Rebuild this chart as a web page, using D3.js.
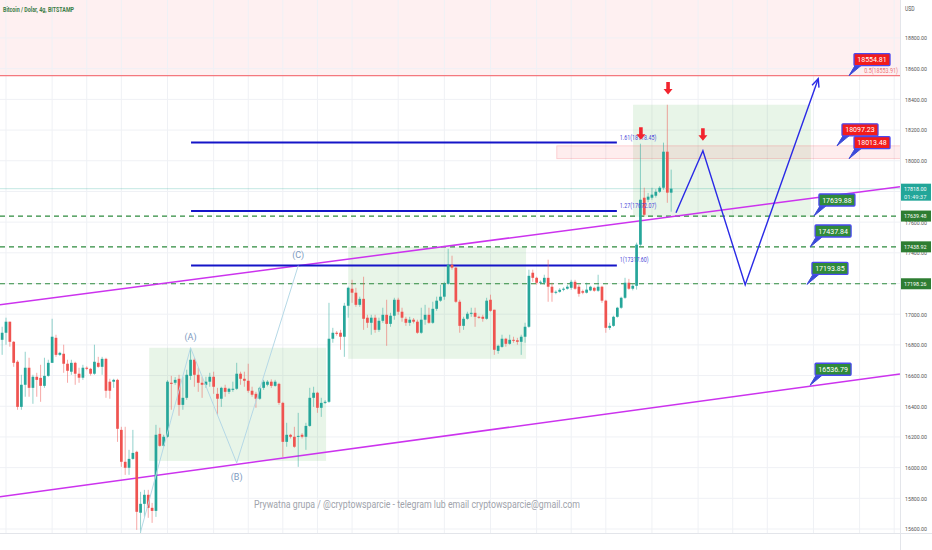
<!DOCTYPE html>
<html>
<head>
<meta charset="utf-8">
<script src="https://cdnjs.cloudflare.com/ajax/libs/d3/7.8.5/d3.min.js"></script>
<style>
  html, body { margin: 0; padding: 0; background: #fff; }
  svg { display: block; font-family: "Roboto", "Liberation Sans", sans-serif; }
</style>
</head>
<body>
<svg id="chart" width="932" height="550"></svg>
<script>
/* ===== BTC/USD 4h — Bitstamp, with channel, fib levels and projection ===== */

const W = 932, H = 550;
const PLOT_R = 900;      // price scale starts here
const AXIS_Y = 533;      // time scale starts here
const FIRST_BAR = Date.UTC(2022, 10, 15, 20);
const BAR_MS = 4 * 3600 * 1000;

/* ---------- candles (4h) ---------- */
const opens = [
  16833,16879,16951,16820,16690,16396,16540,16651,16520,16592,16585,16533,16598,16683,16846,16735,16742,16677,16625,16683,
  16612,16586,16651,16644,16612,16683,16657,16709,16560,16560,16572,16246,16038,15999,16057,16103,15706,15764,15823,15738,
  15718,16220,16142,16201,16553,16553,16579,16409,16455,16598,16703,16605,16553,16540,16560,16592,16481,16449,16520,16494,
  16507,16514,16612,16579,16566,16501,16481,16449,16520,16540,16560,16533,16546,16422,16168,16214,16201,16201,16214,16201,
  16272,16455,16488,16390,16422,16429,16840,16879,16879,16853,17055,17166,17140,17061,17100,16977,16944,16977,16898,16957,
  16996,16937,16990,17094,17016,16970,16944,16964,16951,16879,16964,16996,16944,17035,17088,17114,17198,17322,17303,17081,
  16924,16970,17003,17009,16983,16983,16970,17094,17029,16761,16787,16840,16807,16833,16830,16820,16853,16918,17270,17237,
  17205,17205,17237,17179,17140,17146,17159,17166,17172,17211,17179,17150,17140,17155,17172,17153,17179,17088,16911,16924,
  16983,17042,17107,17205,17166,17185,17453,17759,17746,17759,17772,17798,17824,18059,17792
];
const highs = [
  16918,16977,16951,16825,16700,16605,16755,16716,16605,16618,16670,16716,16703,16970,16866,16755,16801,16703,16703,16690,
  16651,16670,16660,16650,16801,16722,16722,16716,16579,16579,16579,16266,16266,16116,16246,16110,15842,15855,15855,15770,
  16279,16260,16214,16570,16598,16590,16605,16592,16638,16781,16716,16651,16592,16592,16618,16625,16520,16527,16540,16520,
  16560,16683,16625,16625,16677,16527,16494,16527,16572,16570,16575,16572,16553,16429,16292,16220,16266,16357,16225,16292,
  16520,16527,16494,16455,16440,17074,16911,16890,16898,17074,17179,17224,17172,17114,17244,16996,16996,16996,16977,17042,
  17094,17009,17107,17107,17042,16983,16983,16975,16964,17042,17061,17042,17081,17114,17192,17211,17426,17381,17309,17094,
  16983,17016,17042,17042,16990,16996,17107,17127,17029,16801,16866,16846,16866,16853,16846,16866,16944,17290,17290,17244,
  17220,17257,17355,17205,17155,17170,17175,17190,17224,17224,17192,17160,17205,17185,17179,17257,17185,17094,16944,16990,
  17048,17114,17237,17230,17195,17466,18111,17824,17790,17824,17815,17835,18118,18365,17942
];
const lows = [
  16735,16801,16788,16657,16377,16377,16462,16462,16416,16462,16429,16520,16592,16683,16722,16728,16618,16553,16605,16540,
  16553,16572,16635,16600,16605,16651,16605,16455,16449,16520,16168,16005,15953,15953,16051,15594,15575,15679,15673,15640,
  15679,16136,16136,16195,16377,16540,16338,16377,16442,16572,16527,16494,16455,16520,16527,16481,16344,16396,16462,16480,
  16494,16507,16540,16527,16488,16462,16390,16442,16507,16530,16520,16527,16409,16070,16136,16190,16129,16005,16190,16116,
  16266,16396,16357,16331,16415,16422,16814,16860,16768,16722,16977,17074,17048,17048,16898,16911,16866,16879,16885,16944,
  16794,16918,16964,16996,16951,16924,16924,16940,16872,16872,16931,16937,16937,17022,17081,17094,17192,17290,17074,16879,
  16898,16964,16983,16918,16970,16951,16964,17016,16735,16742,16781,16788,16801,16814,16801,16735,16814,16911,17211,17192,
  17195,17192,17081,17081,17130,17140,17150,17160,17159,17159,17114,17130,17135,17150,17146,17146,17074,16879,16898,16918,
  16977,17035,17100,17159,17155,17160,17440,17635,17730,17746,17760,17790,17811,17726,17668
];
const closes = [
  16879,16951,16820,16683,16396,16540,16651,16520,16592,16572,16533,16598,16683,16853,16735,16748,16677,16631,16683,16612,
  16586,16651,16644,16612,16690,16657,16709,16501,16501,16572,16253,16038,15999,16057,16096,15712,15764,15823,15738,15718,
  16214,16142,16201,16560,16546,16572,16409,16455,16605,16703,16605,16553,16540,16560,16592,16527,16449,16520,16494,16514,
  16514,16612,16579,16566,16501,16475,16449,16520,16560,16560,16533,16560,16422,16168,16214,16201,16136,16207,16201,16272,
  16455,16488,16390,16422,16429,16840,16879,16872,16853,17055,17172,17140,17061,17100,16970,16944,16977,16898,16957,16996,
  16937,16990,17094,17016,16977,16944,16964,16951,16879,16964,16996,16944,17035,17088,17114,17198,17322,17303,17081,16924,
  16970,17003,17009,16983,16977,16970,17088,17022,16768,16794,16840,16807,16833,16827,16820,16853,16918,17250,17237,17205,
  17211,17237,17179,17140,17146,17159,17166,17179,17211,17166,17133,17140,17160,17179,17153,17179,17088,16911,16924,16983,
  17042,17107,17205,17166,17185,17453,17746,17648,17766,17779,17798,17824,18059,17792,17818
];

/* ---------- scales / ticks ---------- */
const priceTicks = d3.range(15600, 18801, 200);
const timeTickDates = [
  "2022-11-16T00:00Z","2022-11-18T00:00Z","2022-11-19T12:00Z","2022-11-21T00:00Z","2022-11-23T00:00Z",
  "2022-11-25T00:00Z","2022-11-26T12:00Z","2022-11-28T00:00Z","2022-11-29T12:00Z","2022-12-01T00:00Z",
  "2022-12-03T00:00Z","2022-12-05T00:00Z","2022-12-07T00:00Z","2022-12-09T00:00Z","2022-12-10T12:00Z",
  "2022-12-12T00:00Z","2022-12-14T00:00Z","2022-12-16T00:00Z","2022-12-17T12:00Z","2022-12-19T00:00Z",
  "2022-12-21T00:00Z","2022-12-23T00:00Z","2022-12-24T12:00Z"
];
const timeTickLabels = ["16","18","13:00","21","23","25","13:00","28","13:00","Gru","3","5","7","9","13:00",
  "12","14","16","13:00","19","21","23","13:00"];

/* ---------- drawings ---------- */
const fibLabels = ["1(17317.60)", "1.27(17672.07)", "1.61(18118.45)"];
const fibPrices = [17317.60, 17672.07, 18118.45];
const fibSpan = ["2022-11-24T00:30Z", "2022-12-12T11:30Z"];

const levelPrices = [17639.48, 17438.92, 17198.26];
const resistancePrice = 18554.81;
const resistanceLabel = "0.5(18553.91)";
const lastPrice = 17818.00;
const countdown = "01:49:37";

const channelUpper = [["2022-11-15T17:45Z", 17061], ["2022-12-24T18:00Z", 17831]];
const channelLower = [["2022-11-15T17:45Z", 15810], ["2022-12-24T18:00Z", 16611]];

const boxDates  = [["2022-11-22T05:00Z","2022-11-29T21:00Z"], ["2022-11-30T20:00Z","2022-12-08T13:00Z"], ["2022-12-13T04:20Z","2022-12-20T21:20Z"]];
const boxPrices = [[16781, 16044], [17439, 16709], [18365, 17635]];

const zoneDates  = ["2022-12-09T21:00Z", "2022-12-25T12:00Z"];
const zonePrices = [18097.23, 18013.48];

const waveDates  = ["2022-11-21T20:00Z","2022-11-24T00:00Z","2022-11-26T00:00Z","2022-11-28T16:00Z"];
const wavePrices = [15581, 16781, 16031, 17316];
const waveLabels = [null, "(A)", "(B)", "(C)"];

const pathDates  = ["2022-12-15T01:00Z","2022-12-16T05:00Z","2022-12-18T01:00Z","2022-12-21T05:00Z"];
const pathPrices = [17661, 18065, 17192, 18535];

const arrowDates  = ["2022-12-14T16:45Z","2022-12-13T12:30Z","2022-12-16T05:00Z"];
const arrowPrices = [18431, 18137, 18130];

const calloutPrices = [18554.81, 18097.23, 18013.48, 17639.88, 17437.84, 17193.85, 16536.79];
const calloutDates  = ["2022-12-22T13:00Z","2022-12-22T00:30Z","2022-12-22T13:00Z","2022-12-21T00:30Z",
  "2022-12-20T20:30Z","2022-12-20T17:15Z","2022-12-20T20:30Z"];
const calloutKind   = ["red","red","red","green","green","green","green"];

const watermark = "Prywatna grupa  / @cryptowsparcie - telegram lub email cryptowsparcie@gmail.com";
const title = "Bitcoin / Dolar, 4g, BITSTAMP";

/* ---------- setup ---------- */
const T = s => new Date(s);
const x = d3.scaleTime()
  .domain([T("2022-11-16T00:00Z"), T("2022-12-25T00:00Z")])
  .range([6, 6 + 39 * 23.07]);
const y = d3.scaleLinear().domain([15600, 18800]).range([529, 38]);

const UP = "#26a69a", DOWN = "#ef5350";
const svg = d3.select("#chart");

// narrow label helper: the scale text in the picture is very condensed
const narrow = (sel, perChar) => sel
  .attr("textLength", function () { return this.textContent.length * perChar; })
  .attr("lengthAdjust", "spacingAndGlyphs");

svg.append("defs").append("clipPath").attr("id", "plotClip")
  .append("rect").attr("x", 0).attr("y", 0).attr("width", PLOT_R).attr("height", AXIS_Y);
svg.select("defs").append("clipPath").attr("id", "timeClip")
  .append("rect").attr("x", 0).attr("y", AXIS_Y).attr("width", PLOT_R).attr("height", H - AXIS_Y);

const plot = svg.append("g").attr("clip-path", "url(#plotClip)");

// pink zone above the resistance
plot.append("rect").attr("x", 0).attr("y", 0).attr("width", PLOT_R).attr("height", y(resistancePrice))
  .attr("fill", "rgba(242,54,69,0.075)");

// grid
plot.append("g").selectAll("line").data(priceTicks).join("line")
  .attr("x1", 0).attr("x2", PLOT_R).attr("y1", d => y(d)).attr("y2", d => y(d))
  .attr("stroke", "#eff1f5").attr("stroke-width", 1);
plot.append("g").selectAll("line").data(timeTickDates).join("line")
  .attr("x1", d => x(T(d))).attr("x2", d => x(T(d))).attr("y1", 0).attr("y2", AXIS_Y)
  .attr("stroke", "#eff1f5").attr("stroke-width", 1);

// green boxes
plot.append("g").selectAll("rect").data(boxDates).join("rect")
  .attr("x", d => x(T(d[0]))).attr("width", d => x(T(d[1])) - x(T(d[0])))
  .attr("y", (d, i) => y(boxPrices[i][0])).attr("height", (d, i) => y(boxPrices[i][1]) - y(boxPrices[i][0]))
  .attr("fill", "rgba(76,175,80,0.13)");

// pink supply zone
plot.append("rect")
  .attr("x", x(T(zoneDates[0]))).attr("width", x(T(zoneDates[1])) - x(T(zoneDates[0])))
  .attr("y", y(zonePrices[0])).attr("height", y(zonePrices[1]) - y(zonePrices[0]))
  .attr("fill", "rgba(242,54,69,0.09)").attr("stroke", "rgba(242,54,69,0.25)").attr("stroke-width", 0.8);

// resistance line
plot.append("line").attr("x1", 0).attr("x2", PLOT_R)
  .attr("y1", y(resistancePrice)).attr("y2", y(resistancePrice))
  .attr("stroke", "#f4787e").attr("stroke-width", 1.2);
plot.append("text").attr("x", PLOT_R - 2).attr("y", y(resistancePrice) - 3)
  .attr("text-anchor", "end").attr("font-size", 6.5).attr("fill", "#f07278").text(resistanceLabel)
  .call(narrow, 2.6);

// last price line
plot.append("line").attr("x1", 0).attr("x2", PLOT_R)
  .attr("y1", y(lastPrice)).attr("y2", y(lastPrice))
  .attr("stroke", "rgba(38,166,154,0.35)").attr("stroke-width", 0.8);

// dashed levels
plot.append("g").selectAll("line").data(levelPrices).join("line")
  .attr("x1", 0).attr("x2", PLOT_R).attr("y1", d => y(d)).attr("y2", d => y(d))
  .attr("stroke", "#2e8b3e").attr("stroke-width", 1.2).attr("stroke-dasharray", "5,4");

// channel
const line2 = d3.line().x(d => x(T(d[0]))).y(d => y(d[1]));
[channelUpper, channelLower].forEach(c => {
  plot.append("path").attr("d", line2(c)).attr("fill", "none")
    .attr("stroke", "#cc33ee").attr("stroke-width", 1.5);
});

// fib lines
fibPrices.forEach(p => {
  plot.append("line")
    .attr("x1", x(T(fibSpan[0]))).attr("x2", x(T(fibSpan[1])))
    .attr("y1", y(p)).attr("y2", y(p))
    .attr("stroke", "#1515c8").attr("stroke-width", 2);
});

// candles
const bars = d3.range(opens.length).map(i => ({
  t: new Date(FIRST_BAR + i * BAR_MS), o: opens[i], h: highs[i], l: lows[i], c: closes[i]
}));
const cg = plot.append("g");
cg.selectAll("line").data(bars).join("line")
  .attr("x1", d => x(d.t)).attr("x2", d => x(d.t))
  .attr("y1", d => y(d.h)).attr("y2", d => y(d.l))
  .attr("stroke", d => d.c >= d.o ? UP : DOWN).attr("stroke-opacity", 0.5).attr("stroke-width", 1);
cg.selectAll("rect").data(bars).join("rect")
  .attr("x", d => x(d.t) - 1.35).attr("width", 2.7)
  .attr("y", d => y(Math.max(d.o, d.c)))
  .attr("height", d => Math.max(1, Math.abs(y(d.o) - y(d.c))))
  .attr("fill", d => d.c >= d.o ? UP : DOWN);

// fib labels (on top of candles)
fibPrices.forEach((p, i) => {
  plot.append("text").attr("x", x(T(fibSpan[1])) + 3).attr("y", y(p) - 3)
    .attr("font-size", 6.5).attr("fill", "#4a4ad8").text(fibLabels[i])
    .call(narrow, 2.6);
});

// ABC wave
const wave = waveDates.map((d, i) => [d, wavePrices[i]]);
plot.append("path").attr("d", line2(wave)).attr("fill", "none")
  .attr("stroke", "#b5d8e6").attr("stroke-width", 1);
wave.forEach((d, i) => {
  if (!waveLabels[i]) return;
  const below = waveLabels[i] === "(B)";
  plot.append("text").attr("x", x(T(d[0]))).attr("y", y(d[1]) + (below ? 17 : -8))
    .attr("text-anchor", "middle").attr("font-size", 9).attr("fill", "#7d9ac0").text(waveLabels[i]);
});

// projection path
const proj = pathDates.map((d, i) => [d, pathPrices[i]]);
plot.append("path").attr("d", line2(proj)).attr("fill", "none")
  .attr("stroke", "#2a2ae6").attr("stroke-width", 1.4);
{
  const n = proj.length;
  const [x1, y1] = [x(T(proj[n - 2][0])), y(proj[n - 2][1])];
  const [x2, y2] = [x(T(proj[n - 1][0])), y(proj[n - 1][1])];
  const a = Math.atan2(y2 - y1, x2 - x1);
  const L = 9, s = 0.42;
  plot.append("path")
    .attr("d", `M${x2 - L * Math.cos(a - s)},${y2 - L * Math.sin(a - s)} L${x2},${y2} L${x2 - L * Math.cos(a + s)},${y2 - L * Math.sin(a + s)}`)
    .attr("fill", "none").attr("stroke", "#2a2ae6").attr("stroke-width", 1.4);
}

// red down arrows
plot.append("g").selectAll("path").data(arrowDates).join("path")
  .attr("transform", (d, i) => `translate(${x(T(d))},${y(arrowPrices[i])})`)
  .attr("d", "M0,0 L-4.5,-5.5 L-1.8,-5.5 L-1.8,-12.5 L1.8,-12.5 L1.8,-5.5 L4.5,-5.5 Z")
  .attr("fill", "#f2242e");

// callouts
const cBox = { w: 36, h: 12, dx: 5, dy: -22 };
calloutPrices.forEach((p, i) => {
  const px = x(T(calloutDates[i])), py = y(p);
  const bx = px + cBox.dx, by = py + cBox.dy;
  const g = svg.append("g");
  g.append("path")
    .attr("d", `M${px},${py} L${bx + 1},${by + cBox.h} L${bx + 7},${by + cBox.h} Z`)
    .attr("fill", "#3b4ad8").attr("stroke", "#3b4ad8").attr("stroke-width", 1);
  g.append("rect").attr("x", bx).attr("y", by).attr("width", cBox.w).attr("height", cBox.h)
    .attr("rx", 1).attr("fill", calloutKind[i] === "red" ? "#f21c1c" : "#2f8a3a")
    .attr("stroke", "#4a4af0").attr("stroke-width", 1.3);
  g.append("text").attr("x", bx + cBox.w / 2).attr("y", by + cBox.h / 2 + 0.5)
    .attr("text-anchor", "middle").attr("dominant-baseline", "middle")
    .attr("font-size", 8).attr("fill", "#fff").text(p.toFixed(2))
    .call(narrow, 3.7);
});

// watermark + title
svg.append("text").attr("x", 254).attr("y", 508).attr("font-size", 10.5).attr("fill", "#a0a3ab")
  .attr("textLength", 326).attr("lengthAdjust", "spacingAndGlyphs").text(watermark);
svg.append("text").attr("x", 3).attr("y", 12).attr("font-size", 7.2).attr("font-weight", 700)
  .attr("fill", "#3b7d47").attr("textLength", 71).attr("lengthAdjust", "spacingAndGlyphs").text(title);

/* ---------- axes ---------- */
svg.append("line").attr("x1", PLOT_R + 0.5).attr("x2", PLOT_R + 0.5).attr("y1", 0).attr("y2", H)
  .attr("stroke", "#e3e5ea");
svg.append("line").attr("x1", 0).attr("x2", W).attr("y1", AXIS_Y + 0.5).attr("y2", AXIS_Y + 0.5)
  .attr("stroke", "#e3e5ea");

// the last-price tag fully hides the scale label it sits on
const hiddenByTag = d => Math.abs(y(d) - (y(lastPrice) + 3.5)) < 9;
const yAxis = svg.append("g").attr("transform", `translate(${PLOT_R},0)`)
  .call(d3.axisRight(y).tickValues(priceTicks.filter(d => !hiddenByTag(d)))
    .tickFormat(d3.format(".2f")).tickSize(0).tickPadding(5));
yAxis.select(".domain").remove();
yAxis.selectAll("text").attr("font-size", 6).attr("fill", "#555").attr("font-family", "Roboto, sans-serif")
  .call(narrow, 2.75);

svg.append("text").attr("x", 905).attr("y", 11).attr("font-size", 6.5).attr("fill", "#555").text("USD")
  .call(narrow, 3.2);

const xAxis = svg.append("g").attr("transform", `translate(0,${AXIS_Y + 4})`)
  .call(d3.axisBottom(x).tickValues(timeTickDates.map(T))
    .tickFormat((d, i) => timeTickLabels[i]).tickSize(0).tickPadding(2));
xAxis.select(".domain").remove();
xAxis.selectAll("text").attr("font-size", 7).attr("font-family", "Roboto, sans-serif")
  .attr("font-weight", (d, i) => timeTickLabels[i] === "Gru" ? 700 : 400)
  .attr("fill", (d, i) => timeTickLabels[i] === "Gru" ? "#2f6b3a" : "#555")
  .call(narrow, 2.7);
xAxis.attr("clip-path", "url(#timeClip)");

// price-scale tags
const tagG = svg.append("g");
levelPrices.forEach(p => {
  tagG.append("rect").attr("x", PLOT_R + 1).attr("y", y(p) - 5.5).attr("width", W - PLOT_R - 2).attr("height", 11)
    .attr("fill", "#2e7d32");
  tagG.append("text").attr("x", PLOT_R + 4).attr("y", y(p) + 0.5).attr("dominant-baseline", "middle")
    .attr("font-size", 6).attr("fill", "#fff").text(p.toFixed(2)).call(narrow, 2.8);
});
tagG.append("rect").attr("x", PLOT_R + 1).attr("y", y(lastPrice) - 5).attr("width", W - PLOT_R - 2).attr("height", 17)
  .attr("fill", "#22a699");
tagG.append("text").attr("x", PLOT_R + 4).attr("y", y(lastPrice) + 0.5).attr("dominant-baseline", "middle")
  .attr("font-size", 6).attr("fill", "#fff").text(lastPrice.toFixed(2)).call(narrow, 2.8);
tagG.append("text").attr("x", PLOT_R + 4).attr("y", y(lastPrice) + 8.5).attr("dominant-baseline", "middle")
  .attr("font-size", 6).attr("fill", "#e6f7f5").text(countdown).call(narrow, 2.8);
</script>
</body>
</html>
